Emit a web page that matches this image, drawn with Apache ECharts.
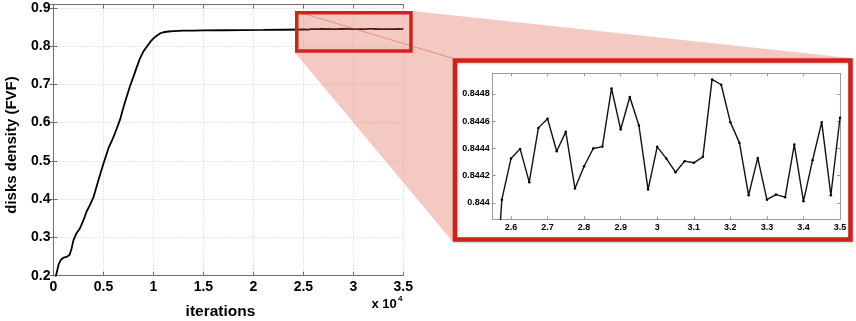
<!DOCTYPE html>
<html>
<head>
<meta charset="utf-8">
<script src="https://cdn.jsdelivr.net/npm/echarts@6/dist/echarts.min.js"></script>
<style>
html,body{margin:0;padding:0;background:#fff;}
#c{width:856px;height:321px;}
</style>
</head>
<body>
<div id="c"></div>
<script>
// ---- data ----
const mainX = [0,250,500,720,1000,1300,1600,1800,2000,2300,2650,3000,3300,3650,4000,4500,5000,5500,5800,6150,6650,7000,7330,7650,8000,8330,8660,9000,9330,9660,10000,10330,10660,11000,11500,12000,13000,14000,15000,17000,19000,21000,23000,25000,25500];
const mainY = [0.18,0.2,0.228,0.241,0.247,0.249,0.254,0.27,0.293,0.311,0.324,0.345,0.367,0.385,0.405,0.45,0.493,0.533,0.55,0.572,0.607,0.64,0.668,0.695,0.72,0.745,0.768,0.786,0.798,0.81,0.82,0.827,0.833,0.836,0.838,0.839,0.8402,0.8405,0.8408,0.8412,0.8416,0.842,0.8426,0.8432,0.843];
const tailX = [25750,26000,26250,26500,26750,27000,27250,27500,27750,28000,28250,28500,28750,29000,29250,29500,29750,30000,30250,30500,30750,31000,31250,31500,31750,32000,32250,32500,32750,33000,33250,33500,33750,34000,34250,34500,34750,35000];
const tailY = [0.844024,0.844325,0.844396,0.844152,0.84455,0.844617,0.844379,0.844521,0.844105,0.844269,0.844399,0.844413,0.844839,0.844538,0.844776,0.844568,0.844098,0.844411,0.844325,0.844225,0.844306,0.844294,0.844338,0.844905,0.844866,0.844592,0.84444,0.844056,0.84433,0.844024,0.844061,0.844042,0.844428,0.844012,0.844313,0.844592,0.844056,0.844624];
const insetXTicks = [26000,27000,28000,29000,30000,31000,32000,33000,34000,35000];
const insetYTicks = [0.844,0.8442,0.8444,0.8446,0.8448];
const mainYTicks = [0.2,0.3,0.4,0.5,0.6,0.7,0.8,0.9];
const xTitle = 'iterations';
const yTitle = 'disks density (FVF)';
const xScaleText = 'x 10';
const xScaleExp = '4';

// ---- build ----
const mainData = mainX.map((x,i)=>[x,mainY[i]]).concat(tailX.map((x,i)=>[x,tailY[i]]));
const insetData = [[mainX[mainX.length-1], mainY[mainY.length-1]]].concat(tailX.map((x,i)=>[x,tailY[i]]));

const FONT = '"Liberation Sans", Arial, Helvetica, sans-serif';
const AX = '#6f6f6f';
const AXI = '#9a9a9a';
const RED = '#cf2218';

const mainGrid = {left:53.5, top:4.5, right:452.7, bottom:45.3};
const insetGrid = {left:492.7, top:73.3, right:16, bottom:101.7};

function mainAxisCommon(){
  return {
    axisLine:{show:true, lineStyle:{color:AX, width:1}},
    axisTick:{show:true, inside:true, length:4, lineStyle:{color:AX}},
  };
}

const chart = echarts.init(document.getElementById('c'), null, {renderer:'canvas'});

// small (source) box & big (zoom) box, outer edges in px
const sb = {x0:295, y0:11, x1:412.7, y1:52.7, lw:3.5};
const bb = {x0:452.7, y0:58.3, x1:852.7, y1:241.7, lw:4.5};

const option = {
  animation:false,
  backgroundColor:'#fff',
  grid:[
    Object.assign({containLabel:false}, mainGrid),
    Object.assign({containLabel:false}, insetGrid)
  ],
  xAxis:[
    Object.assign(mainAxisCommon(), {
      type:'value', gridIndex:0, position:'bottom', min:0, max:35000, interval:5000,
      axisLabel:{color:'#000', fontFamily:FONT, fontWeight:'bold', fontSize:14, margin:4,
        formatter:v=>String(+(v/1e4).toFixed(2))},
      splitLine:{show:true, lineStyle:{color:'#cfcfcf', type:[1,2], width:1}}
    }),
    Object.assign(mainAxisCommon(), {
      type:'value', gridIndex:0, position:'top', min:0, max:35000, interval:5000,
      axisLabel:{show:false}, splitLine:{show:false}
    }),
    {
      type:'value', gridIndex:1, position:'bottom', min:25500, max:35000, z:10,
      axisLine:{show:true, lineStyle:{color:AXI}},
      axisTick:{show:true, inside:true, length:3, lineStyle:{color:AXI}, customValues:insetXTicks},
      axisLabel:{color:'#000', fontFamily:FONT, fontWeight:'bold', fontSize:9, margin:4,
        customValues:insetXTicks, formatter:v=>String(+(v/1e4).toFixed(2))},
      splitLine:{show:false}
    },
    {
      type:'value', gridIndex:1, position:'top', min:25500, max:35000, z:10,
      axisLine:{show:true, lineStyle:{color:AXI}},
      axisTick:{show:true, inside:true, length:3, lineStyle:{color:AXI}, customValues:insetXTicks},
      axisLabel:{show:false}, splitLine:{show:false}
    }
  ],
  yAxis:[
    Object.assign(mainAxisCommon(), {
      type:'value', gridIndex:0, position:'left', min:0.2, max:0.9085, interval:0.1,
      axisLabel:{color:'#000', fontFamily:FONT, fontWeight:'bold', fontSize:14, margin:3,
        showMaxLabel:false, formatter:v=>v.toFixed(1)},
      splitLine:{show:true, lineStyle:{color:'#cfcfcf', type:[1,2], width:1}}
    }),
    Object.assign(mainAxisCommon(), {
      type:'value', gridIndex:0, position:'right', min:0.2, max:0.9085, interval:0.1,
      axisLabel:{show:false}, splitLine:{show:false}
    }),
    {
      type:'value', gridIndex:1, position:'left', min:0.84388, max:0.84495, z:10,
      axisLine:{show:true, lineStyle:{color:AXI}},
      axisTick:{show:true, inside:true, length:3, lineStyle:{color:AXI}, customValues:insetYTicks},
      axisLabel:{color:'#000', fontFamily:FONT, fontWeight:'bold', fontSize:9, margin:3,
        customValues:insetYTicks, formatter:v=>String(+v.toFixed(4))},
      splitLine:{show:false}
    },
    {
      type:'value', gridIndex:1, position:'right', min:0.84388, max:0.84495, z:10,
      axisLine:{show:true, lineStyle:{color:AXI}},
      axisTick:{show:true, inside:true, length:3, lineStyle:{color:AXI}, customValues:insetYTicks},
      axisLabel:{show:false}, splitLine:{show:false}
    }
  ],
  series:[
    {
      type:'line', xAxisIndex:0, yAxisIndex:0, data:mainData, showSymbol:false, symbol:'none',
      lineStyle:{color:'#000', width:1.8}, clip:true, z:3
    },
    {
      type:'line', xAxisIndex:2, yAxisIndex:2, data:insetData, symbol:'circle', symbolSize:2.5,
      showSymbol:true, itemStyle:{color:'#000'},
      lineStyle:{color:'#111', width:1.4}, clip:true, z:11
    }
  ],
  graphic:[
    {type:'polygon', z:5, silent:true,
      shape:{points:[[sb.x0,sb.y0],[sb.x1,sb.y0],[bb.x1,bb.y0],[bb.x0,bb.y1],[sb.x0,sb.y1]]},
      style:{fill:'rgba(222,88,66,0.32)', stroke:'none'}},
    {type:'line', z:6, silent:true,
      shape:{x1:sb.x0, y1:sb.y0, x2:bb.x0, y2:bb.y0},
      style:{stroke:'rgba(215,70,50,0.45)', lineWidth:1}},
    {type:'rect', z:7, silent:true,
      shape:{x:bb.x0+bb.lw/2, y:bb.y0+bb.lw/2, width:bb.x1-bb.x0-bb.lw, height:bb.y1-bb.y0-bb.lw},
      style:{fill:'#fff', stroke:RED, lineWidth:bb.lw, shadowColor:'rgba(60,110,140,0.35)', shadowBlur:2, shadowOffsetX:1, shadowOffsetY:1}},
    {type:'rect', z:8, silent:true,
      shape:{x:sb.x0+sb.lw/2, y:sb.y0+sb.lw/2, width:sb.x1-sb.x0-sb.lw, height:sb.y1-sb.y0-sb.lw},
      style:{fill:'none', stroke:RED, lineWidth:sb.lw}},
    {type:'text', z:9, silent:true, x:220.5, y:311.5,
      style:{text:xTitle, font:'bold 15.5px '+FONT, fill:'#000', align:'center', verticalAlign:'middle', textAlign:'center', textVerticalAlign:'middle'}},
    {type:'text', z:9, silent:true, x:11.5, y:145, rotation:Math.PI/2,
      style:{text:yTitle, font:'bold 15px '+FONT, fill:'#000', align:'center', verticalAlign:'middle', textAlign:'center', textVerticalAlign:'middle'}},
    {type:'text', z:9, silent:true, x:371.5, y:304,
      style:{text:xScaleText, font:'bold 13px '+FONT, fill:'#000', align:'left', verticalAlign:'middle', textAlign:'left', textVerticalAlign:'middle'}},
    {type:'text', z:9, silent:true, x:398, y:298.5,
      style:{text:xScaleExp, font:'bold 8px '+FONT, fill:'#000', align:'left', verticalAlign:'middle', textAlign:'left', textVerticalAlign:'middle'}}
  ]
};
chart.setOption(option);
</script>
</body>
</html>
